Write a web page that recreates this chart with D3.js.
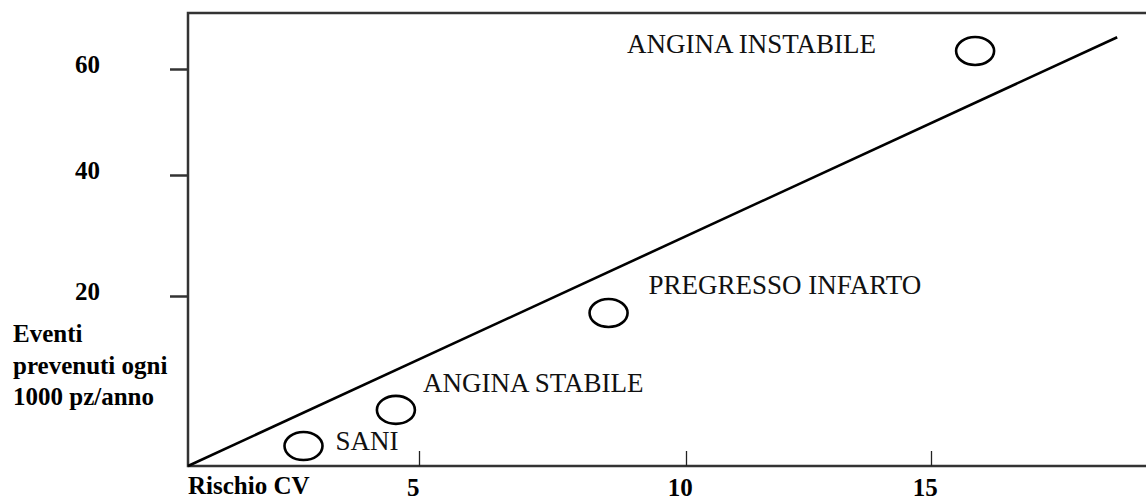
<!DOCTYPE html>
<html>
<head>
<meta charset="utf-8">
<script src="https://cdn.jsdelivr.net/npm/d3@7"></script>
<style>
  html, body { margin: 0; padding: 0; background: #fff; }
  svg { display: block; }
  svg text { font-family: "Liberation Serif", "Times New Roman", "DejaVu Serif", serif; }
</style>
</head>
<body>
<div class="chart"></div>
<script>
// dati
const categorie = ["SANI", "ANGINA STABILE", "PREGRESSO INFARTO", "ANGINA INSTABILE"]
const rischioCV = [2.5, 4.5, 8.55, 15.9]
const eventiPrevenuti = [2.35, 6.6, 18.0, 63.4]

// retta di tendenza (due estremi)
const rettaX = [0, 18.8]
const rettaY = [0, 66]

// tacche degli assi
const xTicks = [5, 10, 15]
const yTicks = [20, 40, 60]

const yTitolo = ["Eventi", "prevenuti ogni", "1000 pz/anno"]
const xTitolo = "Rischio CV"

function disegna() {
  const width = 1146
  const height = 501
  const left = 188, top = 13, bottom = 466

  const svg = d3.select('.chart')
    .append('svg')
    .attr('width', width)
    .attr('height', height)

  // il disegno originale è fatto a mano: spaziatura delle tacche non uniforme
  const xScale = d3.scaleLinear()
    .domain([0, 5, 10, 15])
    .range([left, 419, 686, 931])

  const yScale = d3.scaleLinear()
    .domain([0, 20, 40, 60])
    .range([bottom, 296, 175, 69])

  // cornice: asse sinistro, linea in alto e in basso
  svg.append('path')
    .attr('d', `M${width},${top}H${left}V${bottom}H${width}`)
    .attr('fill', 'none')
    .attr('stroke', '#333')
    .attr('stroke-width', 2.5)

  // asse Y
  const yAxis = d3.axisLeft(yScale)
    .tickValues(yTicks)
    .tickSize(18)
    .tickPadding(70)
  const gy = svg.append('g')
    .attr('transform', `translate(${left},0)`)
    .call(yAxis)
    .attr('font-family', null)
  gy.select('.domain').remove()
  gy.selectAll('.tick line').attr('stroke', '#333').attr('stroke-width', 2.5)
  gy.selectAll('.tick text')
    .attr('dy', '0.12em')
    .style('font-size', '25px')
    .style('font-weight', 'bold')
    .attr('fill', '#000')

  // asse X
  const xAxis = d3.axisBottom(xScale)
    .tickValues(xTicks)
    .tickSizeInner(-15)
    .tickSizeOuter(0)
    .tickPadding(12)
  const gx = svg.append('g')
    .attr('transform', `translate(0,${bottom})`)
    .call(xAxis)
    .attr('font-family', null)
  gx.select('.domain').remove()
  gx.selectAll('.tick line').attr('stroke', '#222').attr('stroke-width', 1.3)
  gx.selectAll('.tick text')
    .attr('dx', '-0.25em')
    .style('font-size', '25px')
    .style('font-weight', 'bold')
    .attr('fill', '#000')

  // titoli degli assi
  svg.append('text')
    .attr('x', 13)
    .attr('y', 342)
    .style('font-size', '25px')
    .style('font-weight', 'bold')
    .selectAll('tspan')
    .data(yTitolo)
    .enter()
    .append('tspan')
    .attr('x', 13)
    .attr('dy', (d, i) => i === 0 ? 0 : 31.5)
    .text(d => d)

  svg.append('text')
    .attr('x', left)
    .attr('y', 494)
    .style('font-size', '25px')
    .style('font-weight', 'bold')
    .text(xTitolo)

  // retta
  const line = d3.line()
    .x(d => xScale(d[0]))
    .y(d => yScale(d[1]))
  svg.append('path')
    .datum(d3.zip(rettaX, rettaY))
    .attr('d', line)
    .attr('fill', 'none')
    .attr('stroke', '#000')
    .attr('stroke-width', 2.6)

  // punti
  const punti = categorie.map((c, i) => ({ nome: c, x: rischioCV[i], y: eventiPrevenuti[i] }))

  svg.append('g')
    .selectAll('ellipse')
    .data(punti)
    .enter()
    .append('ellipse')
    .attr('cx', d => xScale(d.x))
    .attr('cy', d => yScale(d.y))
    .attr('rx', 19)
    .attr('ry', 14)
    .attr('fill', 'none')
    .attr('stroke', '#000')
    .attr('stroke-width', 2.6)

  // etichette dei punti (spostamento rispetto al cerchio)
  const spostamenti = [
    { dx: 32, dy: 4, anchor: 'start' },
    { dx: 27, dy: -18, anchor: 'start' },
    { dx: 40, dy: -19, anchor: 'start' },
    { dx: -99, dy: 2, anchor: 'end' }
  ]

  svg.append('g')
    .selectAll('text')
    .data(punti)
    .enter()
    .append('text')
    .attr('x', (d, i) => xScale(d.x) + spostamenti[i].dx)
    .attr('y', (d, i) => yScale(d.y) + spostamenti[i].dy)
    .attr('text-anchor', (d, i) => spostamenti[i].anchor)
    .style('font-size', '27px')
    .attr('fill', '#111')
    .text(d => d.nome)
}

disegna()
</script>
</body>
</html>
